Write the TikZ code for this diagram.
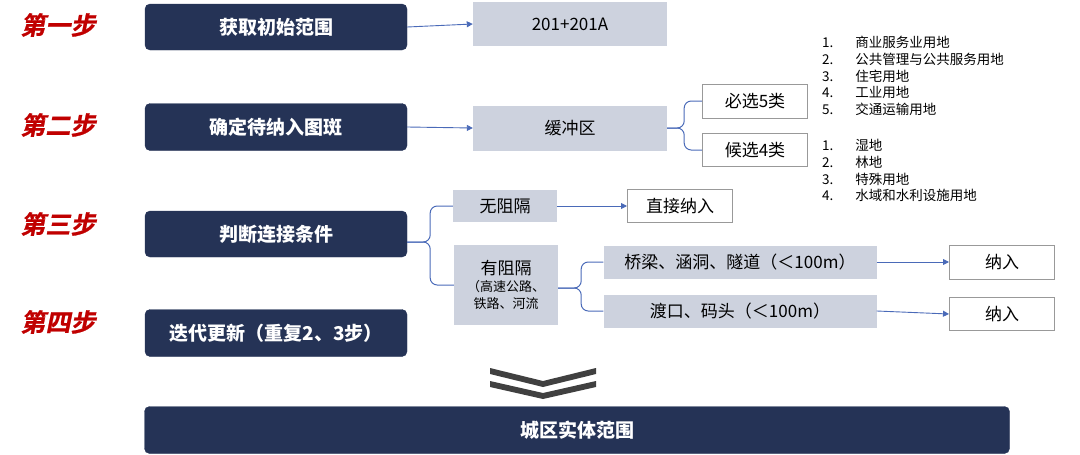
\documentclass[tikz,border=0pt]{standalone}
\usepackage{fontspec}
\setmainfont{Noto Sans CJK SC}
\newfontfamily\stepfont[FakeSlant=0.2,FakeBold=1]{Noto Sans CJK SC Bold}
\usetikzlibrary{calc,arrows.meta}
\definecolor{navy}{HTML}{253356}
\definecolor{gbox}{HTML}{CDD2DE}
\definecolor{lnk}{HTML}{4A6AB8}
\definecolor{stepred}{HTML}{C00000}
\begin{document}
\begin{tikzpicture}[x=1pt,y=-1pt,
  dark/.style={draw=navy,fill=navy,rounded corners=5pt,text=white,font=\bfseries\fontsize{19}{22}\selectfont,inner sep=0pt},
  gray/.style={fill=gbox,inner sep=0pt,font=\fontsize{17}{20}\selectfont},
  wbox/.style={draw=gray!80,line width=1pt,fill=white,inner sep=0pt,font=\fontsize{17}{20}\selectfont},
  steplab/.style={text=stepred,font=\stepfont\fontsize{25}{28}\selectfont},
  arr/.style={draw=lnk,line width=0.9pt,-{Triangle[length=6pt,width=6pt]}},
  br/.style={draw=lnk,line width=1pt,rounded corners=7pt},
  lst/.style={font=\fontsize{13.5}{16.8}\selectfont,align=left,anchor=north west,inner sep=0pt}]
\useasboundingbox (0,0) rectangle (1080,455);
\node[steplab] (l1) at (58,25) {第一步};
\node[steplab] (l2) at (58,125) {第二步};
\node[steplab] (l3) at (58,224) {第三步};
\node[steplab] (l4) at (58,322) {第四步};
\node[dark,minimum width=262,minimum height=46] (s1) at (276,27) {获取初始范围};
\node[dark,minimum width=262,minimum height=47] (s2) at (276,127) {确定待纳入图斑};
\node[dark,minimum width=262,minimum height=46] (s3) at (276,234) {判断连接条件};
\node[dark,minimum width=262,minimum height=47] (s4) at (276,333) {迭代更新（重复2、3步）};
\node[dark,minimum width=865,minimum height=47] (fin) at (577,430) {城区实体范围};
\node[gray,minimum width=194,minimum height=44] (a) at (570,24) {201+201A};
\node[gray,minimum width=194,minimum height=45] (buf) at (570,128) {缓冲区};
\node[wbox,minimum width=105,minimum height=34] (b1) at (755,101) {必选5类};
\node[wbox,minimum width=105,minimum height=33] (b2) at (755,150) {候选4类};
\node[gray,minimum width=104,minimum height=32] (n1) at (505,206) {无阻隔};
\node[wbox,minimum width=105,minimum height=33] (d1) at (680,206) {直接纳入};
\node[gray,minimum width=104,minimum height=80,align=center] (n2) at (506,285)
  {有阻隔\\[-3pt]{\fontsize{13}{15}\selectfont （高速公路、}\\[-3pt]{\fontsize{13}{15}\selectfont 铁路、河流}};
\node[gray,minimum width=273,minimum height=33] (q1) at (740,262) {桥梁、涵洞、隧道（＜100m）};
\node[gray,minimum width=273,minimum height=33] (q2) at (740,311) {渡口、码头（＜100m）};
\node[wbox,minimum width=105,minimum height=34] (r1) at (1002,262) {纳入};
\node[wbox,minimum width=105,minimum height=33] (r2) at (1002,314) {纳入};
\draw[arr] (s1.east) -- (a.west);
\draw[arr] (s2.east) -- (buf.west);
\draw[arr] (n1.east) -- (d1.west);
\draw[arr] (q1.east) -- (r1.west);
\draw[arr] (q2.east) -- (r2.west);
\draw[br] (b1.west) -| ($(buf.east)+(17,0)$) -- (buf.east);
\draw[br] (b2.west) -| ($(buf.east)+(17,0)$) -- (buf.east);
\draw[br] (n1.west) -| ($(s3.east)+(23,8)$) -- ($(s3.east)+(0,8)$);
\draw[br] (n2.west) -| ($(s3.east)+(23,8)$) -- ($(s3.east)+(0,8)$);
\draw[br] (q1.west) -| ($(n2.east)+(23,3)$) -- ($(n2.east)+(0,3)$);
\draw[br] (q2.west) -| ($(n2.east)+(23,3)$) -- ($(n2.east)+(0,3)$);
\node[lst] (list1) at (822,36) {1.\hspace{22pt}商业服务业用地\\2.\hspace{22pt}公共管理与公共服务用地\\3.\hspace{22pt}住宅用地\\4.\hspace{22pt}工业用地\\5.\hspace{22pt}交通运输用地};
\node[lst] (list2) at (822,139) {1.\hspace{22pt}湿地\\2.\hspace{22pt}林地\\3.\hspace{22pt}特殊用地\\4.\hspace{22pt}水域和水利设施用地};
\fill[black!75] (490,368) -- (543,381) -- (596,368) -- (596,374) -- (543,387) -- (490,374) -- cycle;
\fill[black!75] (490,381) -- (543,393) -- (596,381) -- (596,387) -- (543,399) -- (490,387) -- cycle;
\end{tikzpicture}
\end{document}
